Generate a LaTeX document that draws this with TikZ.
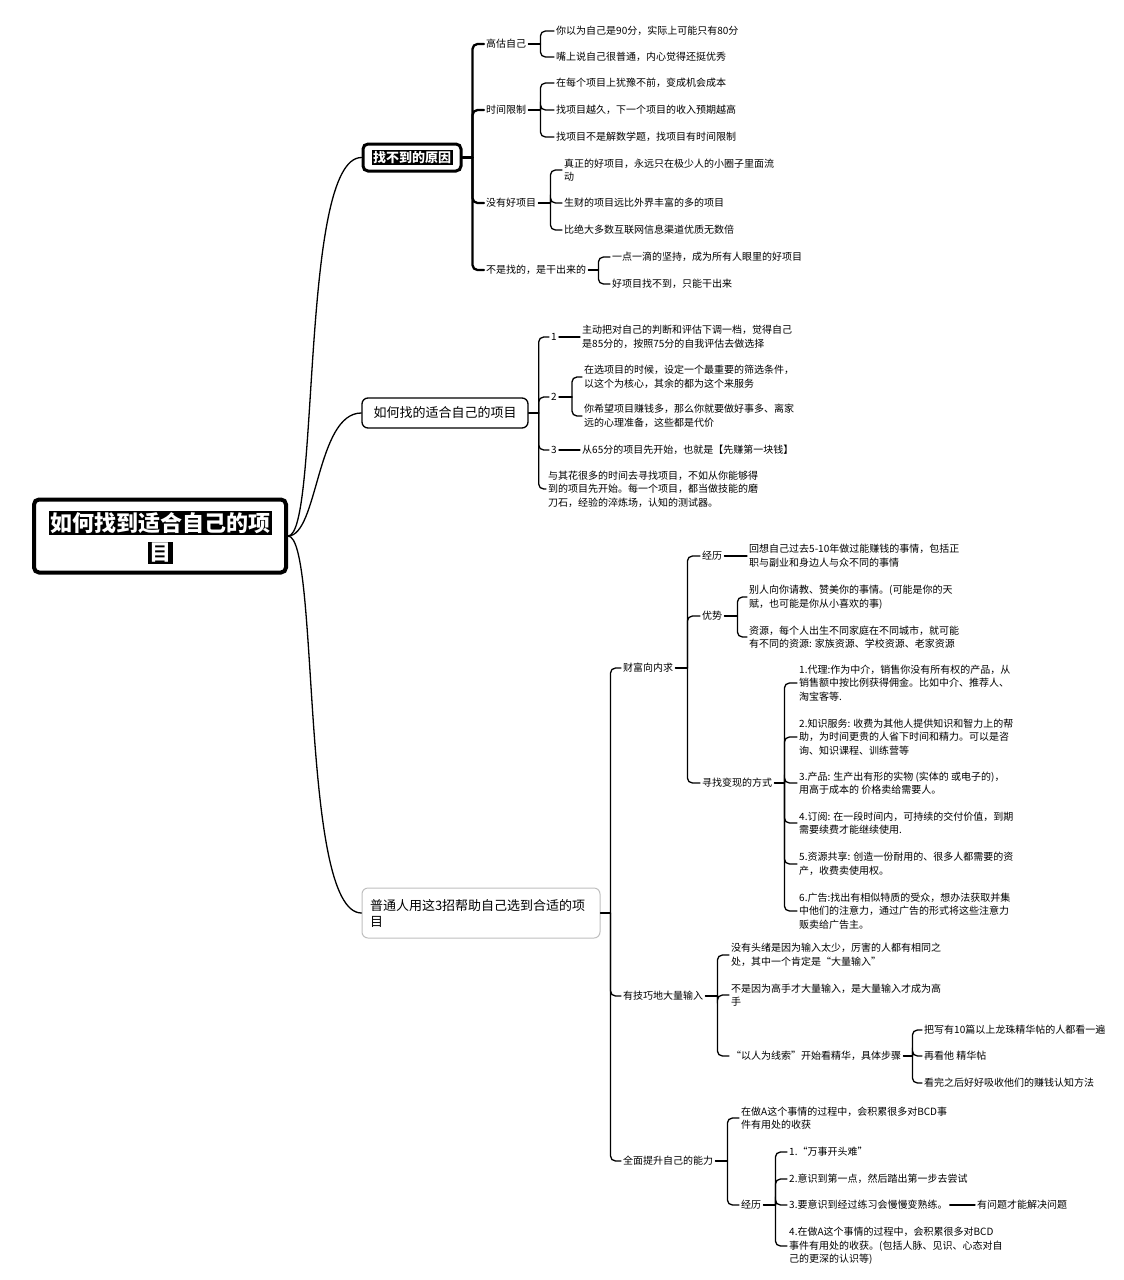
\documentclass[tikz,border=0pt]{standalone}
\usepackage{fontspec}
\setmainfont{Noto Sans CJK SC}
\usetikzlibrary{calc}
\newcommand\mmfork[3]{%
  \draw[conn] (#1.east) -- ++(#2,0);
  \foreach \mmc in {#3}{\draw[conn,rounded corners=5pt] ($(#1.east)+(#2,0)$) |- (\mmc.west);}%
}
\begin{document}
\begin{tikzpicture}[x=1pt,y=-1pt,
  leaf/.style={anchor=west,align=left,inner xsep=2pt,inner ysep=1pt,font=\fontsize{10}{13.6}\selectfont},
  conn/.style={draw,line width=1.3pt,line cap=round},
  thickconn/.style={conn,line width=2.3pt},
  rootbox/.style={draw,line width=4pt,rounded corners=5pt,fill=white,minimum width=252,minimum height=73},
  hilite/.style={fill=black,text=white,inner sep=1.5pt},
  mainbox/.style={draw,line width=1.3pt,rounded corners=6pt,fill=white,font=\fontsize{13}{16}\selectfont},
]
\useasboundingbox (0,0) rectangle (1124,1280);

% root
\node[rootbox] (root) at (160,536) {};
\node[hilite,font=\fontsize{22}{26}\selectfont\bfseries] (rootl1) at (160,523) {如何找到适合自己的项};
\node[hilite,font=\fontsize{22}{26}\selectfont\bfseries] (rootl2) at (160,553) {目};

% main branches
\node[draw,line width=3pt,rounded corners=5pt,fill=white,minimum width=98,minimum height=27] (b1) at (412,157.5) {};
\node[hilite,font=\fontsize{13}{16}\selectfont\bfseries] (b1t) at (412,157.5) {找不到的原因};
\node[mainbox,minimum width=166,minimum height=30] (b2) at (445,413) {如何找的适合自己的项目};
\node[mainbox,draw=black!25,line width=1pt,minimum width=238,minimum height=50,align=left,text width=222] (b3) at (481,913) {普通人用这3招帮助自己选到合适的项\\目};

\draw[conn] (root.east) .. controls +(32,0) and +(-62,0) .. (b1.west);
\draw[conn] (root.east) .. controls +(30,0) and +(-45,0) .. (b2.west);
\draw[conn] (root.east) .. controls +(32,0) and +(-62,0) .. (b3.west);

% ---- branch 1
\node[leaf] (a1) at (484,44) {高估自己};
\node[leaf] (a2) at (484,110) {时间限制};
\node[leaf] (a3) at (484,203) {没有好项目};
\node[leaf] (a4) at (484,270) {不是找的，是干出来的};
\draw[thickconn] (b1.east) -- ++(10,0);
\foreach \mmc in {a1,a2,a3,a4}{\draw[thickconn,rounded corners=5pt] ($(b1.east)+(10,0)$) |- (\mmc.west);}

\node[leaf] (a11) at (554,31) {你以为自己是90分，实际上可能只有80分};
\node[leaf] (a12) at (554,57) {嘴上说自己很普通，内心觉得还挺优秀};
\mmfork{a1}{12}{a11,a12}
\node[leaf] (a21) at (554,83) {在每个项目上犹豫不前，变成机会成本};
\node[leaf] (a22) at (554,110) {找项目越久，下一个项目的收入预期越高};
\node[leaf] (a23) at (554,137) {找项目不是解数学题，找项目有时间限制};
\mmfork{a2}{12}{a21,a22,a23}
\node[leaf] (a31) at (562,170) {真正的好项目，永远只在极少人的小圈子里面流\\动};
\node[leaf] (a32) at (562,203) {生财的项目远比外界丰富的多的项目};
\node[leaf] (a33) at (562,230) {比绝大多数互联网信息渠道优质无数倍};
\mmfork{a3}{12}{a31,a32,a33}
\node[leaf] (a41) at (610,257) {一点一滴的坚持，成为所有人眼里的好项目};
\node[leaf] (a42) at (610,284) {好项目找不到，只能干出来};
\mmfork{a4}{10}{a41,a42}

% ---- branch 2
\node[leaf] (c1) at (549,337) {1};
\node[leaf] (c1t) at (580,337) {主动把对自己的判断和评估下调一档，觉得自己\\是85分的，按照75分的自我评估去做选择};
\node[leaf] (c2) at (549,397) {2};
\node[leaf] (c3) at (549,450) {3};
\node[leaf] (c3t) at (580,450) {从65分的项目先开始，也就是【先赚第一块钱】};
\node[leaf] (c4) at (546,489) {与其花很多的时间去寻找项目，不如从你能够得\\到的项目先开始。每一个项目，都当做技能的磨\\刀石，经验的淬炼场，认知的测试器。};
\mmfork{b2}{10}{c1,c2,c3,c4}
\draw[conn] (c1.east) -- (c1t.west);
\draw[conn] (c3.east) -- (c3t.west);
\node[leaf] (c21) at (582,377) {在选项目的时候，设定一个最重要的筛选条件，\\以这个为核心，其余的都为这个来服务};
\node[leaf] (c22) at (582,416) {你希望项目赚钱多，那么你就要做好事多、离家\\远的心理准备，这些都是代价};
\mmfork{c2}{13}{c21,c22}

% ---- branch 3
\node[leaf] (d1) at (621,668) {财富向内求};
\node[leaf] (d2) at (621,996) {有技巧地大量输入};
\node[leaf] (d3) at (621,1161) {全面提升自己的能力};
\mmfork{b3}{10}{d1,d2,d3}

\node[leaf] (e1) at (700,556) {经历};
\node[leaf] (e1t) at (747,556) {回想自己过去5-10年做过能赚钱的事情，包括正\\职与副业和身边人与众不同的事情};
\node[leaf] (e2) at (700,616) {优势};
\node[leaf] (e3) at (700,783) {寻找变现的方式};
\mmfork{d1}{12}{e1,e2,e3}
\draw[conn] (e1.east) -- (e1t.west);
\node[leaf] (e21) at (747,597) {别人向你请教、赞美你的事情。(可能是你的天\\赋，也可能是你从小喜欢的事)};
\node[leaf] (e22) at (747,637) {资源，每个人出生不同家庭在不同城市，就可能\\有不同的资源: 家族资源、学校资源、老家资源};
\mmfork{e2}{13}{e21,e22}
\node[leaf] (e31) at (797,683) {1.代理:作为中介，销售你没有所有权的产品，从\\销售额中按比例获得佣金。比如中介、推荐人、\\淘宝客等.};
\node[leaf] (e32) at (797,737) {2.知识服务: 收费为其他人提供知识和智力上的帮\\助，为时间更贵的人省下时间和精力。可以是咨\\询、知识课程、训练营等};
\node[leaf] (e33) at (797,783) {3.产品: 生产出有形的实物 (实体的 或电子的)，\\用高于成本的 价格卖给需要人。};
\node[leaf] (e34) at (797,823) {4.订阅: 在一段时间内，可持续的交付价值，到期\\需要续费才能继续使用.};
\node[leaf] (e35) at (797,864) {5.资源共享: 创造一份耐用的、很多人都需要的资\\产，收费卖使用权。};
\node[leaf] (e36) at (797,911) {6.广告:找出有相似特质的受众，想办法获取并集\\中他们的注意力，通过广告的形式将这些注意力\\贩卖给广告主。};
\mmfork{e3}{10}{e31,e32,e33,e34,e35,e36}

\node[leaf] (f1) at (729,955) {没有头绪是因为输入太少，厉害的人都有相同之\\处，其中一个肯定是“大量输入”};
\node[leaf] (f2) at (729,995) {不是因为高手才大量输入，是大量输入才成为高\\手};
\node[leaf] (f3) at (729,1056) {“以人为线索”开始看精华，具体步骤};
\mmfork{d2}{12}{f1,f2,f3}
\node[leaf] (f31) at (922,1030) {把写有10篇以上龙珠精华帖的人都看一遍};
\node[leaf] (f32) at (922,1056) {再看他 精华帖};
\node[leaf] (f33) at (922,1083) {看完之后好好吸收他们的赚钱认知方法};
\mmfork{f3}{9}{f31,f32,f33}

\node[leaf] (g1) at (739,1118) {在做A这个事情的过程中，会积累很多对BCD事\\件有用处的收获};
\node[leaf] (g2) at (739,1205) {经历};
\mmfork{d3}{12}{g1,g2}
\node[leaf] (g21) at (787,1152) {1.“万事开头难”};
\node[leaf] (g22) at (787,1179) {2.意识到第一点，然后踏出第一步去尝试};
\node[leaf] (g23) at (787,1205) {3.要意识到经过练习会慢慢变熟练。};
\node[leaf] (g23t) at (975,1205) {有问题才能解决问题};
\node[leaf] (g24) at (787,1246) {4.在做A这个事情的过程中，会积累很多对BCD\\事件有用处的收获。(包括人脉、见识、心态对自\\己的更深的认识等)};
\mmfork{g2}{12}{g21,g22,g23,g24}
\draw[conn] (g23.east) -- (g23t.west);
\end{tikzpicture}
\end{document}
